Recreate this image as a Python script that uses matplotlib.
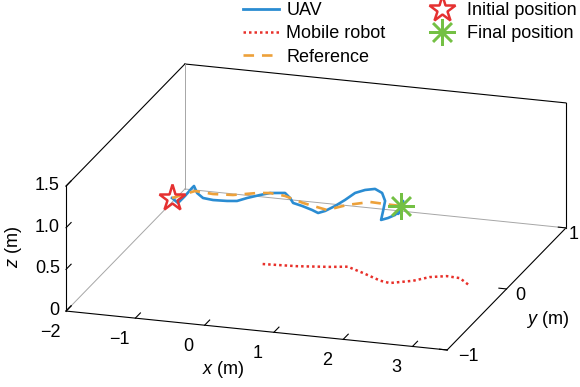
import matplotlib
matplotlib.use('Agg')
import matplotlib.pyplot as plt
from matplotlib.lines import Line2D
from mpl_toolkits.mplot3d import proj3d

plt.rcParams['font.family'] = ['Liberation Sans', 'DejaVu Sans']
plt.rcParams['font.size'] = 13
plt.rcParams['mathtext.fontset'] = 'custom'
plt.rcParams['mathtext.it'] = 'Liberation Sans:italic'
plt.rcParams['mathtext.rm'] = 'Liberation Sans'

# UAV trajectory (m)
uav_x = [-0.899, -0.813, -0.712, -0.611, -0.582, -0.538, -0.452, -0.307, -0.105, 0.039,
         0.184, 0.371, 0.516, 0.660, 0.732, 0.804, 0.848, 0.978, 1.122, 1.209,
         1.310, 1.454, 1.598, 1.743, 1.887, 2.031, 2.133, 2.176, 2.147, 2.118,
         2.219, 2.320, 2.392, 2.436, 2.364, 2.407]
uav_y = [-0.5, -0.5, -0.5, -0.5, -0.5, -0.5, -0.5, -0.5, -0.5, -0.5,
         -0.5, -0.5, -0.5, -0.5, -0.5, -0.5, -0.5, -0.5, -0.5, -0.5,
         -0.5, -0.5, -0.5, -0.5, -0.5, -0.5, -0.5, -0.5, -0.5, -0.5,
         -0.5, -0.5, -0.5, -0.5, -0.5, -0.5]
uav_z = [1.084, 1.031, 1.124, 1.229, 1.255, 1.175, 1.122, 1.110, 1.116, 1.128,
         1.176, 1.228, 1.264, 1.277, 1.283, 1.229, 1.173, 1.148, 1.112, 1.083,
         1.116, 1.188, 1.273, 1.369, 1.417, 1.442, 1.402, 1.310, 1.187, 1.077,
         1.109, 1.154, 1.220, 1.332, 1.170, 1.269]

# reference trajectory (m)
ref_x = [-0.899, -0.567, -0.307, -0.019, 0.342, 0.516, 0.732, 0.992, 1.338, 1.627, 1.959, 2.277, 2.407]
ref_y = [-0.5, -0.5, -0.5, -0.5, -0.5, -0.5, -0.5, -0.5, -0.5, -0.5, -0.5, -0.5, -0.5]
ref_z = [1.084, 1.196, 1.182, 1.195, 1.250, 1.264, 1.247, 1.185, 1.130, 1.215, 1.279, 1.270, 1.269]

# mobile robot trajectory (m)
rob_x = [-0.02, 0.46, 0.90, 1.13, 1.41, 1.74, 1.89, 2.17, 2.34, 2.55, 2.75, 2.98]
rob_y = [0.00, 0.02, 0.06, 0.09, 0.02, -0.07, -0.09, -0.02, 0.06, 0.10, 0.09, -0.01]
rob_z = [0, 0, 0, 0, 0, 0, 0, 0, 0, 0, 0, 0]

xlim = (-2, 3.5)
ylim = (-1, 1)
zlim = (0, 1.5)
xticks = [-2, -1, 0, 1, 2, 3]
yticks = [-1, 0, 1]
zticks = [0, 0.5, 1.0, 1.5]
xticklabels = ['\u22122', '\u22121', '0', '1', '2', '3']
yticklabels = ['\u22121', '0', '1']
zticklabels = ['0', '0.5', '1.0', '1.5']

c_uav = '#2a8cd2'
c_rob = '#e8302a'
c_ref = '#eda13a'
c_ini = '#e53131'
c_fin = '#74c044'

fig = plt.figure(figsize=(5.8, 3.87), dpi=100)
ax = fig.add_axes([0.0136, -0.331, 1.0345, 1.5504], projection='3d',
                  proj_type='ortho', computed_zorder=False)
ax.set_box_aspect((399.5, 395.1, 132.1), zoom=0.934)
ax.view_init(elev=18.9, azim=-72.5)
ax.set_xlim(*xlim, view_margin=0)
ax.set_ylim(*ylim, view_margin=0)
ax.set_zlim(*zlim, view_margin=0)
ax.set_axis_off()
ax.patch.set_alpha(0)

M = ax.get_proj()


def label(x, y, z, s, **kw):
    # put a plain 2D text at the projected position of a 3D point
    px, py, _ = proj3d.proj_transform(x, y, z, M)
    ax.text2D(px, py, s, transform=ax.transData, **kw)


x0, x1 = xlim
y0, y1 = ylim
z0, z1 = zlim
k = dict(color='black', lw=0.8, clip_on=False, zorder=1)
g = dict(color='#a6a6a6', lw=0.7, clip_on=False, zorder=1)
# box
ax.plot([x0, x1], [y0, y0], [z0, z0], **k)
ax.plot([x1, x1], [y0, y1], [z0, z0], **k)
ax.plot([x0, x0], [y0, y0], [z0, z1], **k)
ax.plot([x0, x0], [y0, y1], [z1, z1], **k)
ax.plot([x0, x1], [y1, y1], [z1, z1], **k)
ax.plot([x1, x1], [y1, y1], [z0, z1], **k)
ax.plot([x0, x0], [y1, y1], [z0, z1], **g)
ax.plot([x0, x0], [y0, y1], [z0, z0], **g)
ax.plot([x0, x1], [y1, y1], [z0, z0], **g)

# ticks
for t, s in zip(xticks, xticklabels):
    ax.plot([t, t], [y0, y0 + 0.085], [z0, z0], **k)
    label(t, y0 - 0.27, z0 - 0.06, s, ha='center', va='center')
for t, s in zip(zticks, zticklabels):
    ax.plot([x0, x0], [y0, y0 + 0.085], [t, t], **k)
    label(x0 - 0.09, y0, t, s, ha='right', va='center')
ypad = {-1: 0.16, 0: 0.13, 1: 0.045}
for t, s in zip(yticks, yticklabels):
    ax.plot([x1, x1 - 0.11], [t, t], [z0, z0], **k)
    label(x1 + ypad[t], t, z0 - 0.07, s, ha='left', va='center')

label(0.74, -1.55, -0.066, r'$\it{x}$ (m)', ha='center', va='center')
label(4.43, -0.397, 0, r'$\it{y}$ (m)', ha='center', va='center')
label(-2.757, -1, 0.70, r'$\it{z}$ (m)', rotation=90, ha='center', va='center')

# data
ax.plot(rob_x, rob_y, rob_z, color=c_rob, lw=1.8, ls=(0, (1, 1.2)), clip_on=False, zorder=2)
ax.plot(uav_x, uav_y, uav_z, color=c_uav, lw=1.9, clip_on=False, zorder=3)
ax.plot(ref_x, ref_y, ref_z, color=c_ref, lw=1.9, ls=(0, (4, 3)), clip_on=False, zorder=4)
ax.plot(uav_x[:1], uav_y[:1], uav_z[:1], ls='none', marker='*', ms=20, mfc='none',
        mec=c_ini, mew=1.8, clip_on=False, zorder=5)
ax.plot(uav_x[-1:], uav_y[-1:], uav_z[-1:], ls='none', marker=(8, 2, 0), ms=19,
        mec=c_fin, mew=1.8, clip_on=False, zorder=5)

handles = [
    Line2D([], [], color=c_uav, lw=2),
    Line2D([], [], color=c_rob, lw=1.8, ls=(0, (1, 1.2))),
    Line2D([], [], color=c_ref, lw=1.9, ls=(0, (4, 3))),
    Line2D([], [], ls='none', marker='*', ms=20, mfc='white', mec=c_ini, mew=1.8),
    Line2D([], [], ls='none', marker=(8, 2, 0), ms=19, mec=c_fin, mew=1.8),
]
labels = ['UAV', 'Mobile robot', 'Reference', 'Initial position', 'Final position']
fig.legend(handles, labels, loc='upper left', bbox_to_anchor=(243 / 580, 1 - 2 / 387),
           ncol=2, frameon=False, handlelength=2, handletextpad=0.4,
           columnspacing=2.1, labelspacing=0.35, borderpad=0, borderaxespad=0)

fig.savefig('out.png', dpi=100)
